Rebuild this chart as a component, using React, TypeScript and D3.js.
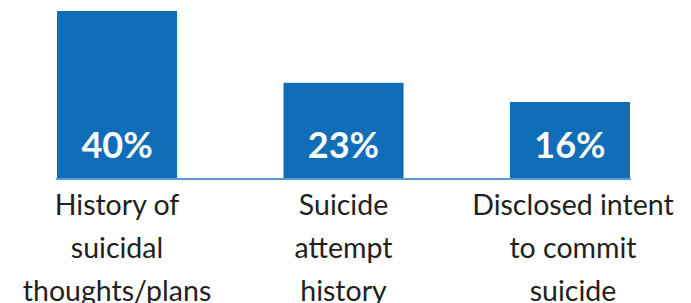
import React from "react";
import * as d3 from "d3";

const categories = ["history", "attempt", "intent"];
const categoryLines = [
  ["History of", "suicidal", "thoughts/plans"],
  ["Suicide", "attempt", "history"],
  ["Disclosed intent", "to commit", "suicide"],
];
// bar heights as drawn in the picture (in percent)
const barValues = [40, 22.8, 18.2];
// labels printed on the bars
const pctLabels = ["40%", "23%", "16%"];

const W = 691;
const H = 303;

export default function App() {
  const x = d3
    .scaleBand<string>()
    .domain(categories)
    .range([57, 630])
    .paddingInner(0.47)
    .paddingOuter(0);
  const y = d3.scaleLinear().domain([0, 40]).range([178, 11]);
  const bw = x.bandwidth();

  return (
    <svg
      width={W}
      height={H}
      style={{ position: "absolute", left: 0, top: 0, background: "#fff" }}
    >
      {categories.map((c, i) => (
        <g key={c}>
          <rect
            x={x(c)}
            y={y(barValues[i])}
            width={bw}
            height={y(0) - y(barValues[i])}
            fill="#106db8"
          />
          <text
            x={(x(c) as number) + bw / 2}
            y={y(0) - 20}
            textAnchor="middle"
            fill="#fff"
            fontFamily="Lato, 'Open Sans', sans-serif"
            fontWeight={700}
            fontSize={36}
          >
            {pctLabels[i]}
          </text>
          {categoryLines[i].map((ln, j) => (
            <text
              key={j}
              x={(x(c) as number) + bw / 2 + (i === 2 ? 3 : 0)}
              y={215 + j * 43}
              textAnchor="middle"
              fill="#231f20"
              fontFamily="Lato, 'Open Sans', sans-serif"
              fontSize={28.5}
            >
              {ln}
            </text>
          ))}
        </g>
      ))}
      <line
        x1={56}
        x2={631}
        y1={y(0) + 1}
        y2={y(0) + 1}
        stroke="#5b9bd5"
        strokeWidth={2}
      />
    </svg>
  );
}
